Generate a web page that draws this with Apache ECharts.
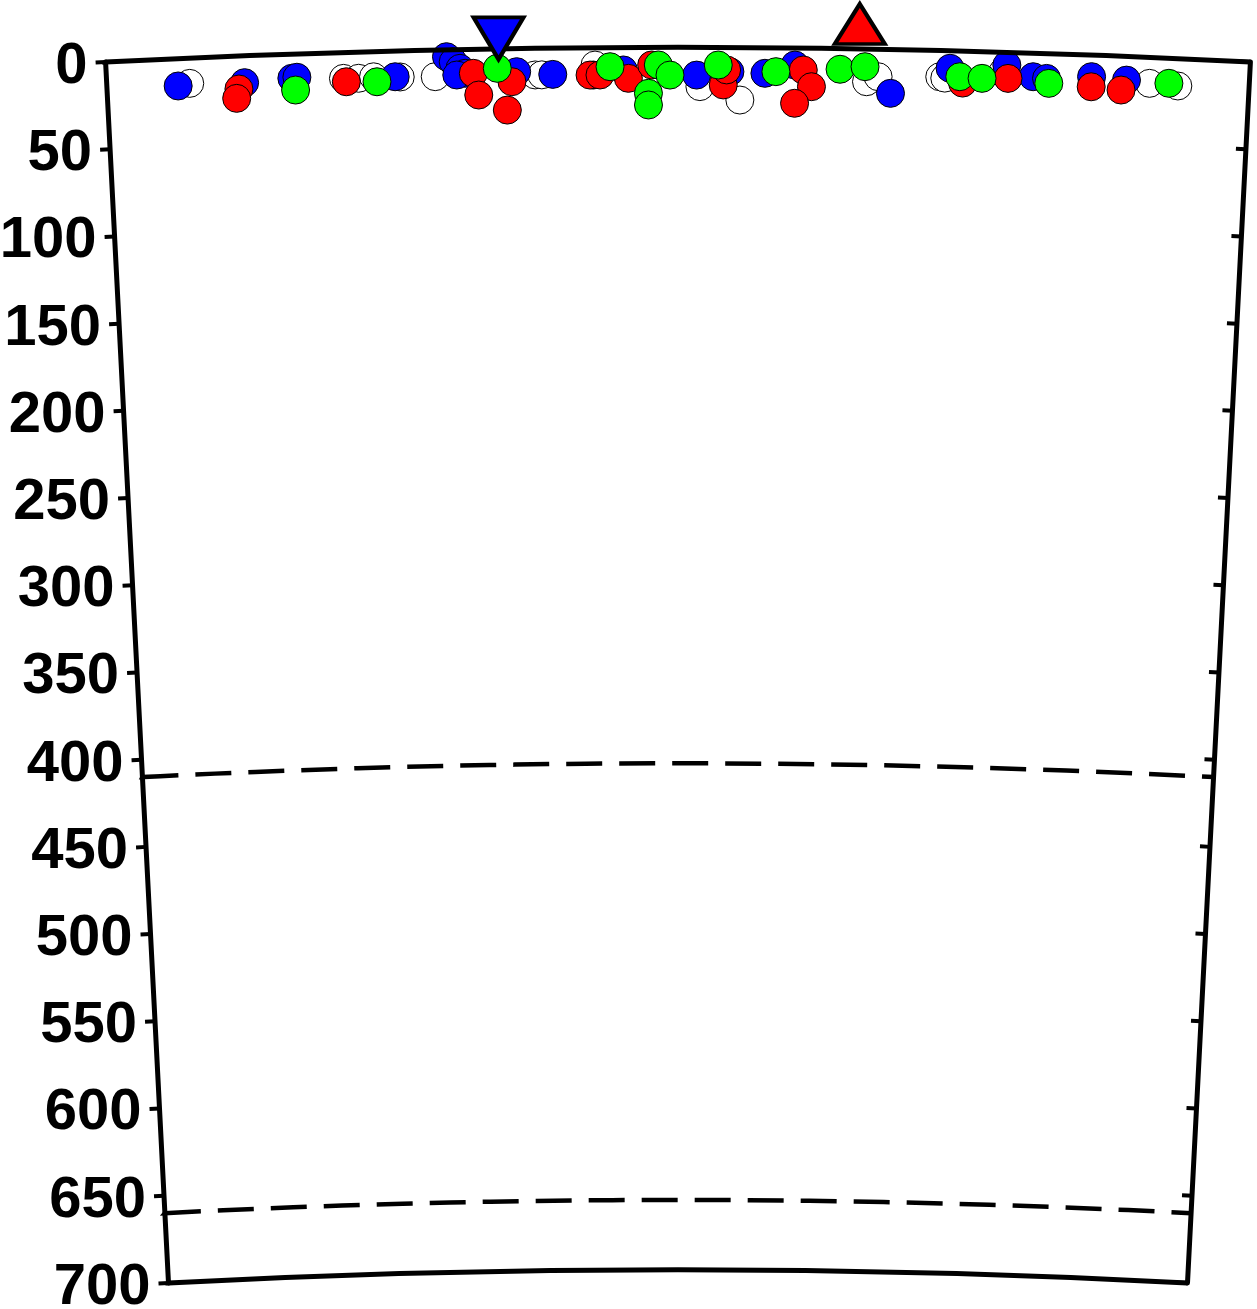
<!DOCTYPE html>
<html><head><meta charset="utf-8">
<script src="https://cdn.jsdelivr.net/npm/echarts@6/dist/echarts.min.js"></script>
<style>html,body{margin:0;padding:0;background:#fff}#c{width:1257px;height:1309px}</style>
</head><body><div id="c"></div>
<script>
// Distance along profile (km) and hypocentre depth (km)
const whiteDist  = [47.6, 135.9, 144.6, 153.2, 168.5, 188.6, 246.0, 249.8, 280.4, 340.6, 363.6, 436.3, 442.9, 478.3, 481.2, 514.5, 598.8, 615.1];
const whiteDepth = [14.5, 14.9, 15.1, 14.5, 15.0, 15.3, 15.3, 15.3, 10.0, 22.5, 30.1, 18.8, 15.8, 15.1, 15.8, 11.3, 14.9, 15.7];
const blueDist   = [40.9, 79.1, 106.3, 109.2, 165.6, 195.3, 199.1, 202.9, 205.8, 201.0, 235.4, 256.1, 279.4, 296.6, 338.7, 357.8, 377.9, 395.1, 450.2, 484.1, 516.6, 531.9, 539.6, 565.4, 585.5];
const blueDepth  = [15.7, 15.4, 13.9, 13.4, 14.8, 4.0, 7.0, 10.8, 13.7, 14.6, 13.3, 15.1, 15.7, 12.9, 15.9, 13.9, 14.7, 9.8, 25.2, 10.1, 7.4, 13.6, 14.3, 12.4, 13.6];
const redDist    = [75.7, 74.2, 137.5, 210.5, 213.4, 232.6, 229.7, 277.5, 283.2, 299.5, 312.9, 354.0, 355.9, 399.9, 404.7, 395.1, 491.5, 517.5, 565.4, 582.6];
const redDepth   = [18.9, 24.2, 16.9, 13.8, 26.3, 19.0, 35.2, 15.7, 15.7, 17.7, 10.1, 21.5, 12.9, 12.6, 22.1, 31.7, 18.4, 15.0, 18.2, 19.4];
const greenDist  = [108.2, 155.1, 224.3, 289.0, 316.7, 323.4, 311.0, 311.0, 351.1, 384.2, 421.0, 435.3, 489.8, 502.6, 541.0, 609.9];
const greenDepth = [20.7, 17.4, 11.2, 11.0, 10.1, 15.9, 26.3, 33.0, 10.1, 13.7, 11.9, 10.2, 14.8, 15.4, 17.1, 14.4];
// Stations (triangles) plotted above the surface
const stationDownDist = [225.3];
const stationDownElev = [-5.9];
const stationUpDist   = [431.9];
const stationUpElev   = [-14.2];
// Axes
const profileRange = [0, 656];
const depthRange = [0, 700];
const depthStep = 50;
const discontinuities = [410, 660];

const pairs = (d, z) => d.map((v, i) => [z[i], v]);

// geometry of the spherical section
const CX = 678, CY = 11173.3, PXKM = 1.7464, RSURF = 11126, HALF = 2.949;
const rad = d => RSURF - d * PXKM;
const geo = { center: [CX, CY], radius: [rad(depthRange[1]), rad(depthRange[0])] };

const hiddenAngle = (i, extra) => Object.assign({
  polarIndex: i, type: 'value', min: profileRange[0], max: profileRange[1],
  startAngle: 90 + HALF, endAngle: 90 - HALF, clockwise: true, show: false
}, extra || {});

const labelFont = { fontFamily: 'Liberation Sans', fontWeight: 'bold', fontSize: 58, color: '#000' };

const option = {
  backgroundColor: '#fff',
  animation: false,
  polar: [
    geo,
    geo,
    geo,
    { center: [CX, CY], radius: [rad(discontinuities[1]), rad(discontinuities[0])] },
    { center: [CX, CY], radius: [rad(depthRange[1]), rad(-30)] }
  ],
  angleAxis: [
    hiddenAngle(0),
    hiddenAngle(1, { startAngle: 90 - HALF, endAngle: 90 + HALF, clockwise: false }),
    hiddenAngle(2),
    hiddenAngle(3),
    hiddenAngle(4)
  ],
  radiusAxis: [
    { polarIndex: 0, type: 'value', min: depthRange[0], max: depthRange[1], interval: depthStep, inverse: true,
      axisLine: { lineStyle: { color: '#000', width: 5 } },
      axisTick: { length: 10, lineStyle: { color: '#000', width: 4 } },
      axisLabel: {
        margin: 18,
        formatter: '{d|{value}}',
        rich: { d: Object.assign({ padding: [8, 0, 0, 0] }, labelFont) }
      },
      splitLine: { show: false } },
    { polarIndex: 1, type: 'value', min: depthRange[0], max: depthRange[1], interval: depthStep, inverse: true,
      axisLine: { lineStyle: { color: '#000', width: 5 } },
      axisTick: { inside: true, length: 10, lineStyle: { color: '#000', width: 4 } },
      axisLabel: { show: false }, splitLine: { show: false } },
    { polarIndex: 2, type: 'value', min: depthRange[0], max: depthRange[1], interval: depthRange[1] - depthRange[0], inverse: true,
      axisLine: { show: false }, axisTick: { show: false }, axisLabel: { show: false },
      splitLine: { show: true, lineStyle: { color: '#000', width: 5 } }, z: 5 },
    { polarIndex: 3, type: 'value', min: discontinuities[0], max: discontinuities[1], interval: discontinuities[1] - discontinuities[0], inverse: true,
      axisLine: { show: false }, axisTick: { show: false }, axisLabel: { show: false },
      splitLine: { show: true, lineStyle: { color: '#000', width: 4.5, type: [36, 17] } } },
    { polarIndex: 4, type: 'value', min: -30, max: depthRange[1], inverse: true, show: false }
  ],
  series: [
    { type: 'scatter', coordinateSystem: 'polar', polarIndex: 0, symbolSize: 28, z: 2,
      itemStyle: { color: '#ffffff', borderColor: '#000', borderWidth: 1, opacity: 1 }, data: pairs(whiteDist, whiteDepth) },
    { type: 'scatter', coordinateSystem: 'polar', polarIndex: 0, symbolSize: 28, z: 2,
      itemStyle: { color: '#0000ff', borderColor: '#000', borderWidth: 1, opacity: 1 }, data: pairs(blueDist, blueDepth) },
    { type: 'scatter', coordinateSystem: 'polar', polarIndex: 0, symbolSize: 28, z: 2,
      itemStyle: { color: '#ff0000', borderColor: '#000', borderWidth: 1, opacity: 1 }, data: pairs(redDist, redDepth) },
    { type: 'scatter', coordinateSystem: 'polar', polarIndex: 0, symbolSize: 28, z: 2,
      itemStyle: { color: '#00ff00', borderColor: '#000', borderWidth: 1, opacity: 1 }, data: pairs(greenDist, greenDepth) },
    { type: 'scatter', coordinateSystem: 'polar', polarIndex: 4, symbol: 'triangle', symbolRotate: 180, symbolSize: [50, 42], z: 10,
      itemStyle: { color: '#0000ff', borderColor: '#000', borderWidth: 4, opacity: 1 }, data: pairs(stationDownDist, stationDownElev) },
    { type: 'scatter', coordinateSystem: 'polar', polarIndex: 4, symbol: 'triangle', symbolSize: [50, 40], z: 10,
      itemStyle: { color: '#ff0000', borderColor: '#000', borderWidth: 4, opacity: 1 }, data: pairs(stationUpDist, stationUpElev) }
  ]
};
const chart = echarts.init(document.getElementById('c'), null, { renderer: 'canvas' });
chart.setOption(option);
</script></body></html>
